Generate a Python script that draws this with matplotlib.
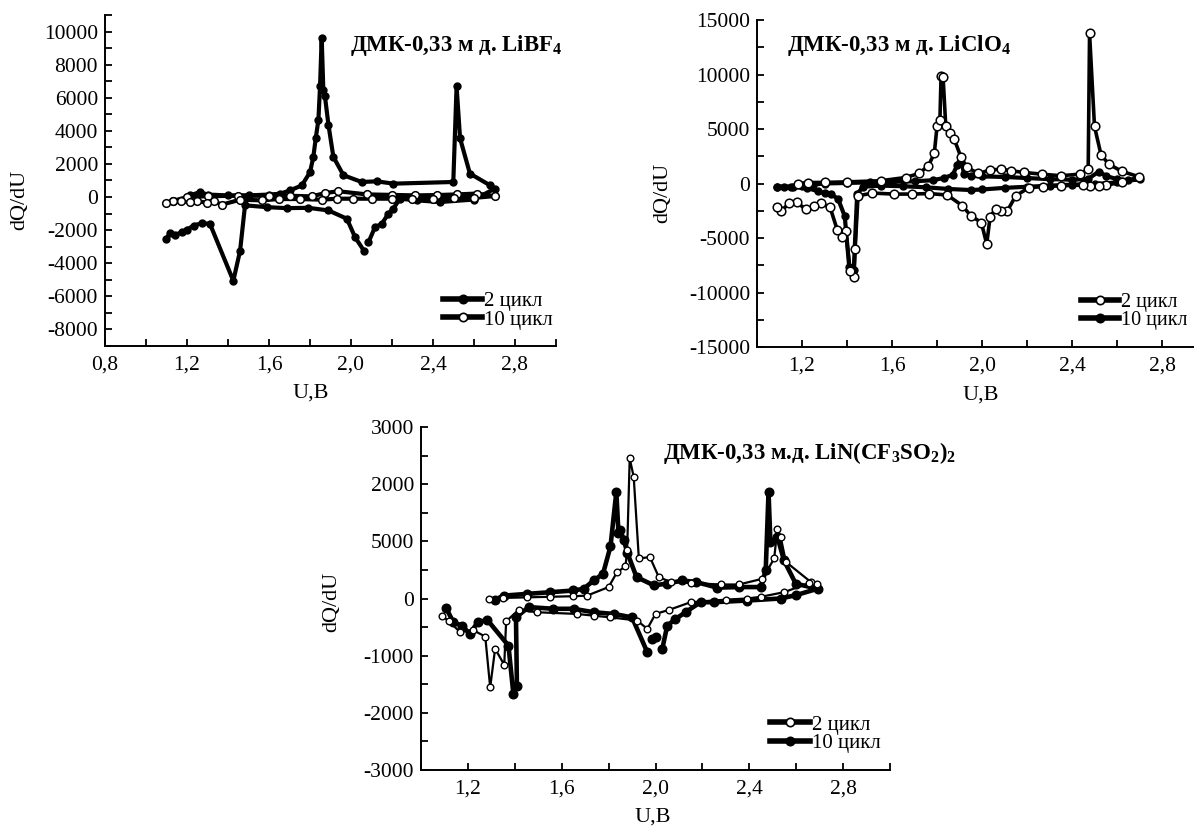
import matplotlib
matplotlib.use('Agg')
import matplotlib.pyplot as plt
import numpy as np
from matplotlib.lines import Line2D
from matplotlib.ticker import FixedLocator, FixedFormatter, MultipleLocator

plt.rcParams['font.family'] = ['Liberation Serif', 'DejaVu Serif']
plt.rcParams['mathtext.fontset'] = 'custom'
plt.rcParams['mathtext.rm'] = 'Liberation Serif'
plt.rcParams['mathtext.bf'] = 'Liberation Serif:bold'

nan = np.nan

# --- panel 1: ДМК-0,33 м д. LiBF4 ---
u1_c2 = [1.215, 1.263, 1.30, 1.40, 1.50, 1.60, 1.654, 1.702, 1.76, 1.80, 1.816, 1.828,
         1.841, 1.849, 1.857, 1.865, 1.873, 1.89, 1.914, 1.963, 2.052, 2.125, 2.207,
         2.499, 2.515, 2.532, 2.58, 2.678, 2.702,
         2.60, 2.434, 2.32, 2.239, 2.206, 2.182, 2.15, 2.117, 2.085, nan, 2.063, 2.02,
         1.98, 1.89, 1.792, 1.686, 1.589, 1.483, 1.459, 1.426, 1.312, 1.272, 1.232,
         1.199, 1.174, 1.141, 1.117, 1.098]
q1_c2 = [100, 300, 150, 100, 100, 150, 200, 400, 700, 1500, 2400, 3550,
         4660, 6700, 9630, 6490, 6080, 4360, 2430, 1320, 910, 950, 810,
         910, 6690, 3550, 1420, 710, 510,
         -150, -300, -200, -100, -700, -1010, -1620, -1820, -2740, nan, -3240, -2430,
         -1310, -810, -650, -670, -610, -500, -3240, -5060, -1620, -1580, -1720,
         -1980, -2130, -2290, -2190, -2530]
u1_c10 = [1.13, 1.20, 1.30, 1.45, 1.60, 1.70, 1.808, 1.873, 1.938, 2.077, 2.20, 2.312,
          2.42, 2.515, 2.613, 2.702,
          2.60, 2.50, 2.40, 2.30, 2.20, 2.10, 2.011, 1.93, 1.857, 1.75, 1.65, 1.564,
          1.46, 1.369, 1.33, 1.296, 1.25, 1.215, 1.17, 1.13, 1.098]
q1_c10 = [-240, 0, 50, 80, 80, 80, 40, 240, 350, 160, 130, 100,
          120, 160, 210, 60,
          -50, -80, -100, -100, -100, -100, -100, -100, -160, -120, -120, -200,
          -160, -460, -250, -340, -250, -300, -260, -240, -340]

# --- panel 2: ДМК-0,33 м д. LiClO4 ---
u2_c2 = [1.183, 1.226, 1.30, 1.40, 1.549, 1.66, 1.72, 1.762, 1.788, 1.80, 1.813, 1.818,
         1.827, 1.839, 1.856, 1.876, 1.907, 1.933, 1.984, 2.035, 2.086, 2.128, 2.188,
         2.265, 2.35, 2.435, 2.472, 2.478, 2.50, 2.529, 2.563, 2.622, 2.699,
         2.62, 2.55, 2.52, 2.48, 2.45, 2.35, 2.27, 2.209, 2.15, 2.113, 2.083, 2.061,
         2.036, 2.021, 1.997, 1.95, 1.913, 1.846, 1.765, 1.69, 1.609, 1.513, 1.449,
         1.436, 1.431, 1.414, 1.394, 1.379, 1.357, 1.325, 1.286, 1.254, 1.217, 1.177,
         1.142, 1.108, 1.09]
q2_c2 = [0, 90, 100, 150, 250, 550, 920, 1630, 2770, 5230, 5840, 9840,
         9780, 5230, 4610, 4090, 2400, 1480, 920, 1230, 1320, 1170, 1010,
         860, 710, 860, 1320, 13770, 5230, 2640, 1780, 1110, 610,
         100, -150, -200, -200, -150, -200, -280, -370, -1130, -2500, -2500, -2350,
         -3050, -5560, -3580, -2960, -2040, -1060, -920, -970, -970, -880, -1130,
         -6020, -8620, -8010, -4340, -4890, -4270, -2200, -1830, -2100, -2350, -1740,
         -1830, -2500, -2140]
u2_c10 = [1.09, 1.12, 1.16, 1.20, 1.25, 1.30, 1.40, 1.50, 1.60, 1.70, 1.78, 1.83, 1.87,
          1.89, 1.905, 1.92, 1.95, 2.0, 2.1, 2.2, 2.3, 2.4, 2.47, 2.52, 2.55, 2.6, 2.65,
          2.7,
          2.6, 2.5, 2.4, 2.3, 2.2, 2.1, 2.0, 1.95, 1.85, 1.75, 1.65, 1.55, 1.47, 1.445,
          1.43, 1.41, 1.39, 1.36, 1.33, 1.30, 1.27, 1.22, 1.15, 1.09]
q2_c10 = [-300, -300, -300, -250, -100, 0, 50, 100, 150, 200, 300, 500, 800,
          1700, 2400, 900, 700, 650, 600, 500, 400, 350, 400, 1100, 700, 400, 300,
          400,
          100, -50, -100, -200, -300, -400, -550, -600, -500, -350, -250, -200, -300, -1000,
          -7900, -7700, -3000, -1400, -1000, -900, -700, -400, -300, -300]

# --- panel 3: ДМК-0,33 м.д. LiN(CF3SO2)2 ---
u3_c2 = [1.288, 1.35, 1.45, 1.55, 1.65, 1.708, 1.80, 1.836, 1.872, 1.879, 1.89, 1.907,
         1.929, 1.976, 2.014, 2.064, 2.15, 2.278, 2.356, 2.456, 2.506, 2.52, 2.534,
         2.556, 2.662, 2.688,
         2.655, 2.548, 2.45, 2.39, 2.30, 2.15, 2.057, 2.0, 1.965, 1.921, 1.808, 1.736,
         1.665, 1.494, 1.416, 1.363, 1.355, 1.316, 1.295, 1.274, 1.22, 1.167, 1.12,
         1.088]
q3_c2 = [0, 10, 20, 30, 40, 50, 200, 460, 560, 840, 2450, 2130,
         700, 725, 375, 290, 270, 245, 245, 345, 700, 1220, 1075,
         640, 290, 245,
         270, 110, 30, 0, -20, -65, -200, -270, -530, -385, -330, -300,
         -270, -240, -200, -400, -1160, -880, -1555, -665, -550, -590, -400,
         -300]
u3_c10 = [1.316, 1.352, 1.45, 1.55, 1.65, 1.694, 1.736, 1.776, 1.808, 1.833, 1.842, 1.85,
          1.865, 1.88, 1.919, 1.993, 2.05, 2.114, 2.171, 2.264, 2.356, 2.449, 2.47,
          2.482, 2.49, 2.52, 2.548, 2.598, 2.691,
          2.60, 2.534, 2.392, 2.249, 2.192, 2.128, 2.085, 2.05, 2.029, nan, 2.004,
          1.986, nan, 1.965, 1.90, 1.822, 1.736, 1.651, 1.565, 1.459, 1.405, 1.409,
          1.394, 1.373, 1.283, 1.241, 1.209, 1.174, 1.138, 1.107]
q3_c10 = [-20, 50, 80, 110, 140, 170, 315, 430, 910, 1865, 1150, 1200,
          1020, 800, 375, 230, 260, 315, 290, 190, 200, 200, 490,
          1865, 990, 1075, 665, 260, 170,
          60, 0, -35, -65, -65, -240, -360, -475, -880, nan, -680,
          -705, nan, -940, -330, -270, -240, -180, -180, -150, -330, -1525,
          -1670, -825, -375, -415, -620, -475, -415, -165]

x_ticks = [0.8, 1.0, 1.2, 1.4, 1.6, 1.8, 2.0, 2.2, 2.4, 2.6, 2.8, 3.0]
x_labels = ['0,8', '', '1,2', '', '1,6', '', '2,0', '', '2,4', '', '2,8', '']
y1_ticks = [10000, 8000, 6000, 4000, 2000, 0, -2000, -4000, -6000, -8000]
y2_ticks = [15000, 10000, 5000, 0, -5000, -10000, -15000]
y3_ticks = [3000, 2000, 1000, 0, -1000, -2000, -3000]
y3_labels = ['3000', '2000', '5000', '0', '-1000', '-2000', '-3000']

W, H = 1194, 827
fig = plt.figure(figsize=(W / 100, H / 100), dpi=100)


def add_px_axes(left, top, right, bottom):
    return fig.add_axes([left / W, 1 - bottom / H, (right - left) / W, (bottom - top) / H])


def style(ax, xlim, ylim, yticks, ylabels, yminor, xlab_pos, ylab_pos):
    ax.set_xlim(*xlim)
    ax.set_ylim(*ylim)
    xt = [t for t in x_ticks if xlim[0] - 1e-9 <= t <= xlim[1] + 1e-9]
    xl = [l for t, l in zip(x_ticks, x_labels) if t in xt]
    ax.xaxis.set_major_locator(FixedLocator(xt))
    ax.xaxis.set_major_formatter(FixedFormatter(xl))
    ax.yaxis.set_major_locator(FixedLocator(yticks))
    ax.yaxis.set_major_formatter(FixedFormatter(ylabels))
    ax.yaxis.set_minor_locator(MultipleLocator(yminor))
    for s in ['top', 'right']:
        ax.spines[s].set_visible(False)
    for s in ['left', 'bottom']:
        ax.spines[s].set_linewidth(1.4)
    ax.tick_params(which='both', direction='in', length=5, width=1.3, labelsize=15.5)
    ax.tick_params(axis='x', pad=7)
    ax.tick_params(axis='y', pad=5)
    ax.set_xlabel('U,B', fontsize=16)
    ax.set_ylabel('dQ/dU', fontsize=16)
    ax.xaxis.set_label_coords(*xlab_pos)
    ax.yaxis.set_label_coords(*ylab_pos)
    ax.xaxis.label.set_va('center')
    ax.yaxis.label.set_va('center')


def filled(ax, u, q, lw=3.0, ms=5.0):
    ax.plot(u, q, color='black', lw=lw, marker='o', ms=ms, mfc='black', mec='black')


def hollow(ax, u, q, lw=2.6, ms=6.0, mew=1.1):
    ax.plot(u, q, color='black', lw=lw, marker='o', ms=ms, mfc='white', mec='black', mew=mew)


def legend(ax, labels, styles, pos, size=15):
    handles = []
    for st in styles:
        mfc = 'black' if st == 'filled' else 'white'
        handles.append(Line2D([], [], color='black', lw=4, marker='o', ms=6,
                              mfc=mfc, mec='black', mew=1.2))
    ax.legend(handles, labels, loc='upper left', bbox_to_anchor=pos, frameon=False,
              handlelength=1.9, handletextpad=0.1, labelspacing=-0.05, borderpad=0,
              borderaxespad=0, fontsize=size)


ax1 = add_px_axes(105, 15, 556, 346)
filled(ax1, u1_c2, q1_c2, lw=3.0, ms=5.0)
hollow(ax1, u1_c10, q1_c10, lw=3.0, ms=5.5)
style(ax1, (0.8, 3.0), (-9000, 11000), y1_ticks, [str(t) for t in y1_ticks], 1000,
      (0.457, -0.142), (-0.19, 0.44))
legend(ax1, ['2 цикл', '10 цикл'], ['filled', 'open'], (0.749, 0.165))

ax2 = add_px_axes(757, 20, 1207, 347)
filled(ax2, u2_c10, q2_c10, lw=3.0, ms=5.0)
hollow(ax2, u2_c2, q2_c2, lw=2.6, ms=6.2)
style(ax2, (1.0, 3.0), (-15000, 15000), y2_ticks, [str(t) for t in y2_ticks], 2500,
      (0.498, -0.147), (-0.21, 0.47))
legend(ax2, ['2 цикл', '10 цикл'], ['open', 'filled'], (0.72, 0.165), size=14.5)

ax3 = add_px_axes(421, 427, 890, 770)
filled(ax3, u3_c10, q3_c10, lw=3.3, ms=6.2)
hollow(ax3, u3_c2, q3_c2, lw=1.6, ms=4.8, mew=1.0)
style(ax3, (1.0, 3.0), (-3000, 3000), y3_ticks, y3_labels, 500,
      (0.495, -0.137), (-0.19, 0.49))
legend(ax3, ['2 цикл', '10 цикл'], ['open', 'filled'], (0.744, 0.16))

fig.text(350 / W, 1 - 45 / H, r'ДМК-0,33 м д. LiBF$_\mathbf{4}$', fontsize=16.5,
         fontweight='bold', ha='left', va='center')
fig.text(787 / W, 1 - 45 / H, r'ДМК-0,33 м д. LiClO$_\mathbf{4}$', fontsize=16.5,
         fontweight='bold', ha='left', va='center')
fig.text(663 / W, 1 - 453 / H, r'ДМК-0,33 м.д. LiN(CF$_\mathbf{3}$SO$_\mathbf{2}$)$_\mathbf{2}$',
         fontsize=16.5, fontweight='bold', ha='left', va='center')

fig.savefig('out.png', dpi=100)
